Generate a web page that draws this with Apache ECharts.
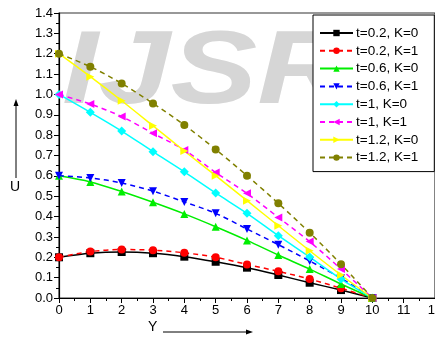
<!DOCTYPE html>
<html><head><meta charset="utf-8">
<script src="https://cdn.jsdelivr.net/npm/echarts@6/dist/echarts.min.js"></script>
<style>html,body{margin:0;padding:0;background:#fff}#c{width:435px;height:337px}</style>
</head><body><div id="c"></div>
<script>
var yPos = [0,1,2,3,4,5,6,7,8,9,10];
var names = ['t=0.2, K=0','t=0.2, K=1','t=0.6, K=0','t=0.6, K=1','t=1, K=0','t=1, K=1','t=1.2, K=0','t=1.2, K=1'];
var u_t02_K0 = [0.200,0.220,0.226,0.220,0.203,0.178,0.149,0.113,0.075,0.039,0.0];
var u_t02_K1 = [0.200,0.228,0.238,0.235,0.222,0.200,0.165,0.131,0.093,0.048,0.0];
var u_t06_K0 = [0.600,0.570,0.523,0.470,0.413,0.350,0.283,0.211,0.142,0.069,0.0];
var u_t06_K1 = [0.600,0.590,0.565,0.525,0.472,0.416,0.339,0.262,0.182,0.097,0.0];
var u_t1_K0  = [1.000,0.912,0.820,0.719,0.620,0.516,0.416,0.306,0.201,0.093,0.0];
var u_t1_K1  = [1.000,0.953,0.891,0.809,0.727,0.617,0.514,0.396,0.277,0.142,0.0];
var u_t12_K0 = [1.200,1.087,0.969,0.846,0.722,0.601,0.478,0.355,0.232,0.113,0.0];
var u_t12_K1 = [1.200,1.136,1.054,0.956,0.850,0.730,0.601,0.465,0.321,0.166,0.0];
var xTicks = [0,1,2,3,4,5,6,7,8,9,10,11,12];
var yTicks = ['0.0','0.1','0.2','0.3','0.4','0.5','0.6','0.7','0.8','0.9','1.0','1.1','1.2','1.3','1.4'];

var allData = [u_t02_K0,u_t02_K1,u_t06_K0,u_t06_K1,u_t1_K0,u_t1_K1,u_t12_K0,u_t12_K1];
var colors = ['#000000','#ff0000','#00ee00','#0000ff','#00ffff','#ff00ff','#ffff00','#808000'];
var symbols = ['rect','circle','triangle','triangle','diamond','triangle','triangle','circle'];
var rots = [0,0,0,180,0,90,-90,0];
var dashed = [false,true,false,true,false,true,false,true];
var font = 'Liberation Sans, Arial, sans-serif';

var series = allData.map(function(d,i){
  return {
    name: names[i], type:'line', smooth:0.3,
    data: d.map(function(v,j){return [yPos[j], v];}),
    symbol: symbols[i], symbolRotate: rots[i], symbolSize: symbols[i]==='diamond'?9:8,
    lineStyle:{color:colors[i], width:1.5, type: dashed[i]?[5,4]:'solid'},
    itemStyle:{color:colors[i]},
    z: 3
  };
});

var chart = echarts.init(document.getElementById('c'), null, {renderer:'canvas'});
chart.setOption({
  animation:false,
  backgroundColor:'#fff',
  grid:{left:59, top:13, right:0, bottom:39, containLabel:false, outerBoundsMode:'none',
    show:true, borderColor:'#333', borderWidth:1.2},
  xAxis:{type:'value', min:0, max:12, interval:1,
    axisLine:{onZero:false, lineStyle:{color:'#000', width:1.2}},
    axisTick:{show:true, inside:false, length:5, lineStyle:{color:'#000'}},
    minorTick:{show:true, splitNumber:2, length:3, lineStyle:{color:'#000'}},
    splitLine:{show:false},
    axisLabel:{color:'#000', fontFamily:font, fontSize:13, margin:6, hideOverlap:false,
      formatter:function(v){return xTicks.indexOf(v)>=0 ? String(v) : '';}}
  },
  yAxis:{type:'value', min:0, max:1.4, interval:0.1,
    axisLine:{onZero:false, lineStyle:{color:'#000', width:1.2}},
    axisTick:{show:true, inside:false, length:5, lineStyle:{color:'#000'}},
    minorTick:{show:true, splitNumber:2, length:3, lineStyle:{color:'#000'}},
    splitLine:{show:false},
    axisLabel:{color:'#000', fontFamily:font, fontSize:13, margin:6,
      formatter:function(v){var i=Math.round(v*10); return yTicks[i]||'';}}
  },
  legend:{orient:'vertical', left:313, top:15, itemWidth:33, itemHeight:8, itemGap:3.8,
    padding:[11,16,7,6], borderColor:'#000', borderWidth:1, backgroundColor:'#fff',
    textStyle:{color:'#000', fontFamily:font, fontSize:13.5, padding:[0,0,0,-2]},
    data:names},
  graphic:[
    {type:'text', left:62, top:22, z:-10, silent:true, scaleX:1.25,
      style:{text:'IJSR', fontSize:104, fontWeight:'bold', fontStyle:'italic', fontFamily:font, fill:'#d6d6d6'}},
    {type:'text', left:10, top:180, style:{text:'U', fontSize:14, fontFamily:font, fill:'#000'}},
    {type:'line', shape:{x1:16, y1:178, x2:16, y2:104}, style:{stroke:'#000', lineWidth:1}},
    {type:'polygon', shape:{points:[[16,99],[13.5,106],[18.5,106]]}, style:{fill:'#000'}},
    {type:'text', left:148, top:320, style:{text:'Y', fontSize:14, fontFamily:font, fill:'#000'}},
    {type:'line', shape:{x1:163, y1:332, x2:247, y2:332}, style:{stroke:'#000', lineWidth:1}},
    {type:'polygon', shape:{points:[[253,332],[246,329.5],[246,334.5]]}, style:{fill:'#000'}}
  ],
  series: series
});
</script></body></html>
